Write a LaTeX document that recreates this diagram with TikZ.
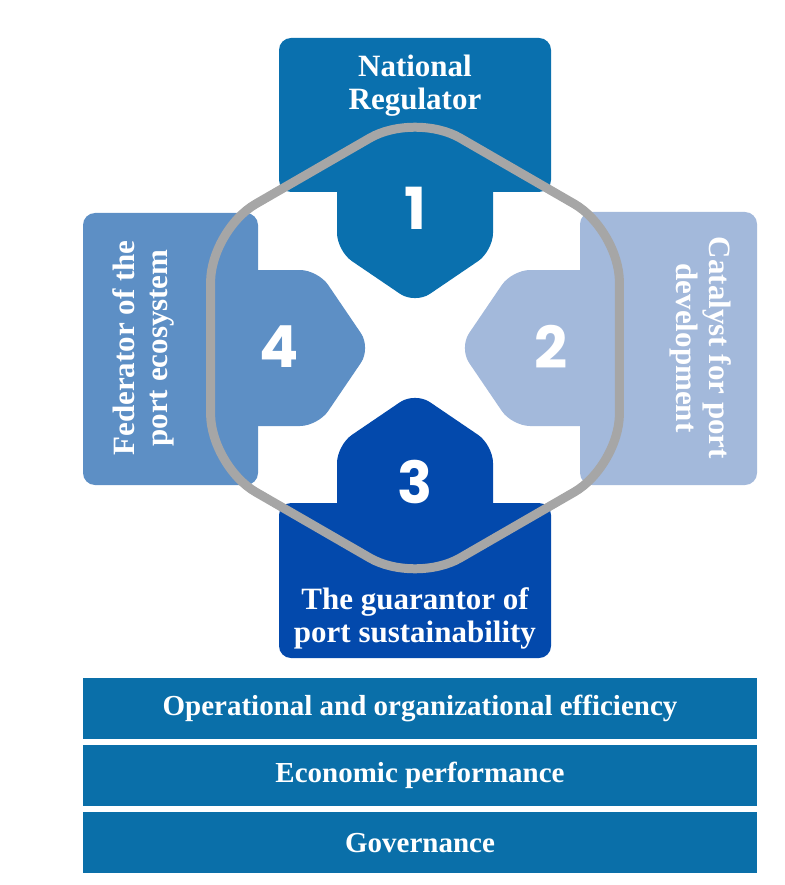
\documentclass[tikz,border=0pt]{standalone}
\usepackage{fontspec}
\setmainfont{Liberation Serif}
\newfontfamily\numfont{Poppins}
\usetikzlibrary{positioning}
\definecolor{regblue}{HTML}{0A70AE}
\definecolor{catblue}{HTML}{A3B9DB}
\definecolor{guablue}{HTML}{0349AC}
\definecolor{fedblue}{HTML}{5D8FC5}
\definecolor{barblue}{HTML}{0A6FA9}
\definecolor{ringgray}{HTML}{A6A6A6}

\begin{document}
\begin{tikzpicture}[x=1pt, y=-1pt,
  panel/.style={rounded corners=12pt}, tabshape/.style={rounded corners=18pt},
  lbl/.style={text=white, font=\fontsize{31}{33}\selectfont\bfseries, align=center, inner sep=0pt},
  num/.style={text=white, font=\fontsize{58}{58}\selectfont\numfont\bfseries, inner sep=0pt},
  bar/.style={fill=barblue, minimum width=674pt, minimum height=61pt, inner sep=0pt, text=white,
    font=\fontsize{29}{32}\selectfont\bfseries},
  ring/.style={draw=ringgray, line width=9pt, rounded corners=52pt}, node distance=6pt]
\useasboundingbox (0,0) rectangle (784,885);
% the four roles, each a panel with a pointed tab towards the centre
\fill[regblue, panel] (279,38) rectangle (551,192);
\fill[regblue, tabshape] (337,170) -- (337,251) -- (415,304) -- (493,251) -- (493,170) -- cycle;
\fill[catblue, panel] (580,212) rectangle (757,485);
\fill[catblue, tabshape] (602,270) -- (512,270) -- (459,348) -- (512,426) -- (602,426) -- cycle;
\fill[guablue, panel] (279,503) rectangle (551,658);
\fill[guablue, tabshape] (337,525) -- (337,445) -- (415,392) -- (493,445) -- (493,525) -- cycle;
\fill[fedblue, panel] (83,213) rectangle (258,485);
\fill[fedblue, tabshape] (236,270) -- (318,270) -- (371,348) -- (318,426) -- (236,426) -- cycle;
% hexagon ring on top (open at the middle of one side, so no cycle corner)
\draw[ring] (312.8,171) -- (415,112) -- (619.4,230) -- (619.4,466) -- (415,584)
  -- (210.6,466) -- (210.6,230) -- (312.8,171);
\node[num] (n1) at (415,208) {1};
\node[num] (n2) at (551,347) {2};
\node[num] (n3) at (415,482) {3};
\node[num] (n4) at (279,347) {4};
\node[lbl] (nat) at (415,86) {National\\Regulator};
\node[lbl, rotate=-90] (cat) at (701,348) {Catalyst for port\\development};
\node[lbl] (gua) at (415,618) {The guarantor of\\port sustainability};
\node[lbl, rotate=90] (fed) at (143,348) {Federator of the\\port ecosystem};
% pillars underneath
\node[bar] (eff) at (420,708) {Operational and organizational efficiency};
\node[bar, below=of eff] (eco) {Economic performance};
\node[bar, below=of eco] (gov) {Governance};
\end{tikzpicture}
\end{document}
